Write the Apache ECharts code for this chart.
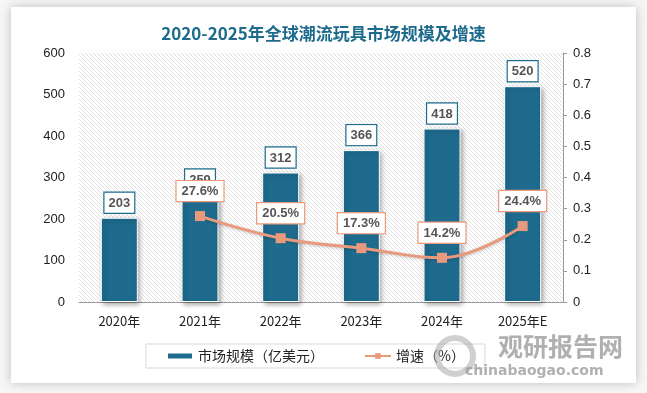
<!DOCTYPE html>
<html>
<head>
<meta charset="utf-8">
<script src="https://cdn.jsdelivr.net/npm/echarts@6/dist/echarts.min.js"></script>
<style>
html,body{margin:0;padding:0;background:#ffffff;}
#c{width:647px;height:393px;}
</style>
</head>
<body>
<div id="c"></div>
<script>
var categories = ['2020年', '2021年', '2022年', '2023年', '2024年', '2025年E'];
var marketSize = [203, 259, 312, 366, 418, 520];
var growthRate = [null, 0.276, 0.205, 0.173, 0.142, 0.244];
var growthLabels = [null, '27.6%', '20.5%', '17.3%', '14.2%', '24.4%'];
var leftTicks = [0, 100, 200, 300, 400, 500, 600];
var rightTicks = [0, 0.1, 0.2, 0.3, 0.4, 0.5, 0.6, 0.7, 0.8];

// hatch pattern
var pc = document.createElement('canvas');
pc.width = 4; pc.height = 4;
var px = pc.getContext('2d');
px.fillStyle = '#ffffff';
px.fillRect(0, 0, 4, 4);
px.fillStyle = '#e1e1e1';
for (var i = 0; i < 4; i++) { px.fillRect(i, i, 1, 1); }

var chart = echarts.init(document.getElementById('c'), null, {renderer: 'canvas'});
var BAR = '#1E6B8E';
var LINE = '#E99A7C';
chart.setOption({
  animation: false,
  backgroundColor: '#f6f6f6',
  title: {
    text: '2020-2025年全球潮流玩具市场规模及增速',
    left: 'center',
    top: 20,
    textStyle: {color: '#1E6B8E', fontSize: 17, fontWeight: 'bold', fontFamily: 'Noto Sans CJK SC'}
  },
  graphic: [
    {type: 'rect', z: -10, shape: {x: 11, y: 7, width: 625, height: 376},
     style: {fill: '#ffffff', shadowBlur: 10, shadowColor: 'rgba(0,0,0,0.22)'}},
    {type: 'text', left: 498, top: 334, z: 10, style: {text: '观研报告网', fill: 'rgba(150,150,150,0.75)', font: 'bold 25px "Noto Sans CJK SC"'}},
    {type: 'text', left: 465, top: 364, z: 10, style: {text: 'chinabaogao.com', fill: 'rgba(150,150,150,0.75)', font: 'bold 14px "DejaVu Sans"'}},
    {type: 'circle', z: 9, shape: {cx: 455, cy: 356, r: 18}, style: {fill: 'none', stroke: 'rgba(170,170,170,0.55)', lineWidth: 6}}
  ],
  grid: {
    left: 79, right: 84, top: 53, bottom: 91,
    show: true,
    borderWidth: 0,
    backgroundColor: {image: pc, repeat: 'repeat'}
  },
  legend: {
    bottom: 25,
    left: 146,
    width: 300,
    padding: [5, 20, 5, 20],
    itemGap: 40,
    borderColor: '#d9d9d9',
    borderWidth: 1,
    itemWidth: 26,
    itemHeight: 7,
    textStyle: {fontSize: 14, color: '#222', fontFamily: 'Noto Sans CJK SC'},
    data: [
      {name: '市场规模（亿美元）', icon: 'rect'},
      {name: '增速（%）'}
    ]
  },
  xAxis: {
    type: 'category',
    data: categories,
    axisLine: {show: true, lineStyle: {color: '#999', width: 1}},
    axisTick: {show: false},
    axisLabel: {color: '#222', fontSize: 13, margin: 13, fontFamily: 'Noto Sans CJK SC'}
  },
  yAxis: [
    {
      type: 'value', min: 0, max: 600, interval: 100,
      axisLine: {show: false}, axisTick: {show: false},
      splitLine: {show: false},
      axisLabel: {color: '#222', fontSize: 13, margin: 14, fontFamily: 'Liberation Sans'}
    },
    {
      type: 'value', min: 0, max: 0.8, interval: 0.1,
      axisLine: {show: true, lineStyle: {color: '#999'}},
      axisTick: {show: true, length: 4, inside: false, lineStyle: {color: '#999'}},
      splitLine: {show: false},
      axisLabel: {color: '#222', fontSize: 13, margin: 10, fontFamily: 'Liberation Sans',
        formatter: function (v) { return String(Math.round(v * 10) / 10); }}
    }
  ],
  series: [
    {
      name: '市场规模（亿美元）',
      type: 'bar',
      data: marketSize,
      barWidth: 37,
      itemStyle: {color: BAR, borderColor: '#ffffff', borderWidth: 1,
        shadowBlur: 5, shadowOffsetX: 2, shadowOffsetY: 2, shadowColor: 'rgba(0,0,0,0.35)'},
      label: {
        show: true, position: 'top', distance: 5,
        color: '#555', fontSize: 13, fontWeight: 'bold', fontFamily: 'Liberation Sans',
        backgroundColor: '#ffffff', borderColor: BAR, borderWidth: 1.2,
        padding: [4, 4, 3, 4]
      }
    },
    {
      name: '增速（%）',
      type: 'line',
      yAxisIndex: 1,
      data: growthRate,
      smooth: 0.4,
      connectNulls: false,
      symbol: 'rect',
      symbolSize: 10,
      lineStyle: {color: LINE, width: 3, shadowBlur: 3, shadowColor: 'rgba(0,0,0,0.2)', shadowOffsetY: 1},
      itemStyle: {color: LINE},
      label: {
        show: true, position: 'top', distance: 10,
        formatter: function (p) { return growthLabels[p.dataIndex] || ''; },
        color: '#555', fontSize: 13, fontWeight: 'bold', fontFamily: 'Liberation Sans',
        backgroundColor: '#ffffff', borderColor: LINE, borderWidth: 1.2,
        padding: [4, 5, 3, 5]
      }
    }
  ]
});
</script>
</body>
</html>
